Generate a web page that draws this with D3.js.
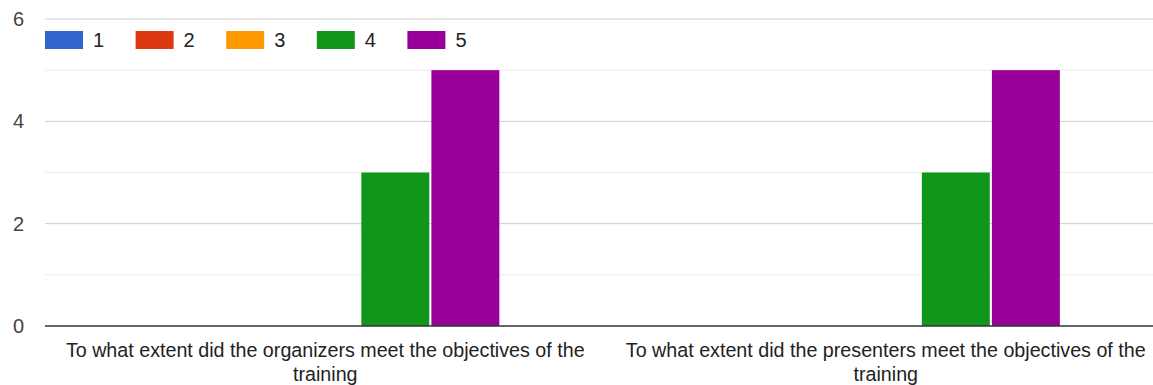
<!DOCTYPE html>
<html><head><meta charset="utf-8">
<script src="https://cdn.jsdelivr.net/npm/d3@7"></script>
<style>body{margin:0;background:#fff;} text{font-family:"Liberation Sans",Arial,sans-serif;}</style>
</head><body>
<svg id="c" width="1153" height="385"></svg>
<script>
const categories = ["To what extent did the organizers meet the objectives of the training",
                    "To what extent did the presenters meet the objectives of the training"];
const seriesNames = ["1","2","3","4","5"];
const seriesColors = ["#3366cc","#dc3912","#ff9900","#109618","#990099"];
const values = [
  [0,0,0,3,5],
  [0,0,0,3,5]
];
const yTicks = [0,2,4,6];

(function(){
const svg = d3.select("#c");
const pLeft = 45, pRight = 1166, pTop = 19, pBottom = 326;
const fs = 19.7;
const y = d3.scaleLinear().domain([0,6]).range([pBottom, pTop]);
const x0 = d3.scaleBand().domain(categories).range([pLeft, pRight]);
const x1 = d3.scaleBand().domain(seriesNames).range([0, x0.bandwidth()]).paddingInner(0.03).paddingOuter(1.515);

const minor = [1,3,5];
svg.append("g").selectAll("line").data(minor).join("line")
  .attr("x1", pLeft).attr("x2", 1153).attr("y1", d=>y(d)).attr("y2", d=>y(d))
  .attr("stroke", "#ebebeb").attr("stroke-width", 1);
svg.append("g").selectAll("line").data(yTicks.filter(d=>d>0)).join("line")
  .attr("x1", pLeft).attr("x2", 1153).attr("y1", d=>y(d)).attr("y2", d=>y(d))
  .attr("stroke", "#cccccc").attr("stroke-width", 1);

svg.append("g").selectAll("text").data(yTicks).join("text")
  .attr("x", 24).attr("y", d=>y(d)).attr("dy", "0.35em").attr("text-anchor", "end")
  .attr("font-size", 20).attr("fill", "#444").text(d=>d);

const g = svg.append("g").selectAll("g").data(categories).join("g")
  .attr("transform", d=>`translate(${x0(d)},0)`);
g.selectAll("rect").data((d,i)=>values[i].map((v,j)=>({v, s: seriesNames[j], c: seriesColors[j]})))
  .join("rect")
  .attr("x", d=>x1(d.s)).attr("width", x1.bandwidth())
  .attr("y", d=>y(d.v)).attr("height", d=>y(0)-y(d.v))
  .attr("fill", d=>d.c);

svg.append("line").attr("x1", pLeft).attr("x2", 1153).attr("y1", y(0)).attr("y2", y(0))
  .attr("stroke", "#333").attr("stroke-width", 1.5);

const maxW = 540;
categories.forEach(cat=>{
  const cx = x0(cat)+x0.bandwidth()/2;
  const t = svg.append("text").attr("x", cx).attr("y", 357)
    .attr("text-anchor","middle").attr("font-size", fs).attr("fill","#222");
  const words = cat.split(" ");
  let line = [];
  let ts = t.append("tspan").attr("x", cx).attr("dy", 0);
  words.forEach(w=>{
    line.push(w); ts.text(line.join(" "));
    if (ts.node().getComputedTextLength() > maxW && line.length>1){
      line.pop(); ts.text(line.join(" "));
      line=[w];
      ts = t.append("tspan").attr("x", cx).attr("dy", 24).text(w);
    }
  });
});

const leg = svg.append("g").selectAll("g").data(seriesNames).join("g")
  .attr("transform", (d,i)=>`translate(${45+i*90.6},31)`);
leg.append("rect").attr("width", 38).attr("height", 18).attr("fill", (d,i)=>seriesColors[i]);
leg.append("text").attr("x", 48).attr("y", 9).attr("dy","0.35em").attr("font-size", 20).attr("fill","#222").text(d=>d);
})();
</script>
</body></html>
